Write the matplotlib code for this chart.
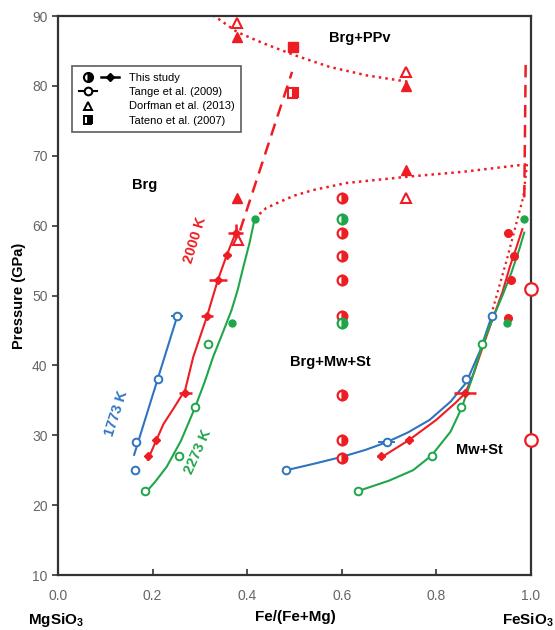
import matplotlib
matplotlib.use("Agg")
import matplotlib.pyplot as plt
from matplotlib.lines import Line2D
from matplotlib.legend_handler import HandlerTuple

plt.rcParams["font.family"] = ["Liberation Sans", "DejaVu Sans"]
plt.rcParams["mathtext.fontset"] = "custom"
plt.rcParams["mathtext.rm"] = "Liberation Sans:bold"
plt.rcParams["mathtext.bf"] = "Liberation Sans:bold"

BLUE, RED, GREEN = "#2f74c0", "#ee1d23", "#1fa64a"

# ---- data: x = Fe/(Fe+Mg), y = pressure (GPa) ----
# 1773 K (Tange et al. 2009, open circles)
b_lo_x = [0.165, 0.212, 0.252]; b_lo_y = [29, 38, 47]; b_lo_xerr = [0, 0, 0.012]
b_extra_x = [0.163]; b_extra_y = [25]
b_hi_x = [0.483, 0.695, 0.863, 0.917]; b_hi_y = [25, 29, 38, 47]; b_hi_xerr = [0, 0.018, 0, 0]
b_lo_fit_x = [0.161, 0.252]; b_lo_fit_y = [27.2, 47]
b_hi_fit_x = [0.483, 0.54, 0.60, 0.65, 0.695, 0.74, 0.786, 0.83, 0.863, 0.892, 0.917]
b_hi_fit_y = [25, 25.9, 26.9, 27.9, 29, 30.4, 32.2, 34.8, 37.5, 42, 47]

# 2000 K (this study, filled with error bars)
r_lo_x = [0.191, 0.208, 0.269, 0.315, 0.338, 0.357, 0.376]
r_lo_y = [27, 29.3, 36, 47, 52.2, 55.8, 59]
r_lo_xerr = [0.006, 0.006, 0.014, 0.013, 0.019, 0.008, 0.016]
r_lo_yerr = [0, 0, 0, 0, 0, 0, 1.2]
r_hi_x = [0.683, 0.742, 0.861]; r_hi_y = [27, 29.3, 36]; r_hi_xerr = [0.008, 0.008, 0.023]
r_extra_x = [0.952, 0.964, 0.957, 0.952]; r_extra_y = [59, 55.6, 52.2, 46.8]
r_lo_fit_x = [0.19, 0.208, 0.223, 0.245, 0.269, 0.286, 0.30, 0.315, 0.338, 0.357, 0.376]
r_lo_fit_y = [26.5, 29.3, 31.6, 33.9, 36.5, 41.2, 44, 47, 52.2, 55.8, 59]
r_hi_fit_x = [0.683, 0.742, 0.80, 0.84, 0.861, 0.88, 0.90, 0.92, 0.94, 0.956, 0.97, 0.982]
r_hi_fit_y = [26.8, 29.3, 32.2, 34.6, 36, 39, 43, 46.8, 50.5, 54.2, 57, 59.5]

# 2273 K (open = Tange et al., filled = this study)
g_lo_x = [0.184, 0.256, 0.29, 0.317]; g_lo_y = [22, 27, 34, 43]
g_hi_x = [0.634, 0.79, 0.853, 0.897]; g_hi_y = [22, 27, 34, 43]
g_fill_x = [0.368, 0.416, 0.985, 0.95]; g_fill_y = [46, 61, 61, 46]
g_lo_fit_x = [0.184, 0.205, 0.230, 0.26, 0.29, 0.31, 0.328, 0.348, 0.367, 0.38, 0.392, 0.405, 0.416]
g_lo_fit_y = [21.7, 23.3, 25.5, 29.2, 34, 37.6, 41.2, 44.6, 47.9, 50.8, 54.1, 57.5, 61]
g_hi_fit_x = [0.634, 0.70, 0.751, 0.79, 0.83, 0.853, 0.875, 0.897, 0.92, 0.94, 0.959, 0.975, 0.986]
g_hi_fit_y = [22, 23.5, 25, 27.1, 30.5, 33.8, 38, 42.8, 46.8, 50, 53.3, 56.5, 59]

# half-filled circles at Fe# = 0.6 (this study)
hc_red_y = [64, 59, 55.6, 52.2, 47, 35.8, 29.3, 26.8]
hc_green_y = [61, 46]
hc_x = 0.6

# Dorfman et al. (2013) triangles
dorf_open_x = [0.378, 0.735, 0.735, 0.38]; dorf_open_y = [89, 82, 64, 58]
dorf_fill_x = [0.378, 0.735, 0.735, 0.378]; dorf_fill_y = [87, 80, 68, 64]
# Tateno et al. (2007) squares
tat_fill_x = [0.498]; tat_fill_y = [85.5]
tat_half_x = [0.498]; tat_half_y = [79]
# open red circles on FeSiO3 side
fe_x = [1.0, 1.0]; fe_y = [51, 29.3]

# phase boundaries
ppv_x = [0.315, 0.339, 0.379, 0.434, 0.5, 0.575, 0.653, 0.739]
ppv_y = [90.6, 89.6, 87.7, 86.1, 84.4, 82.7, 81.5, 80.6]
brg_x = [0.416, 0.42, 0.44, 0.469, 0.50, 0.54, 0.61, 0.739, 0.856, 0.994]
brg_y = [61, 61.3, 62.5, 63.4, 64.3, 65.1, 66.1, 67, 67.7, 68.8]
fe_dot_x = [0.992, 0.984, 0.949, 0.913]; fe_dot_y = [68.8, 64.1, 55.1, 46.5]
dash_l_x = [0.385, 0.495]; dash_l_y = [59.3, 82]
dash_r_x = [0.989, 0.986]; dash_r_y = [83, 63]

fig = plt.figure(figsize=(5.55, 6.3), dpi=100)
ax = fig.add_axes([0.1045, 0.0873, 0.852, 0.8873])

# boundaries
ax.plot(ppv_x, ppv_y, ":", color=RED, lw=1.8)
ax.plot(brg_x, brg_y, ":", color=RED, lw=1.8)
ax.plot(fe_dot_x, fe_dot_y, ":", color=RED, lw=1.6)
ax.plot(dash_l_x, dash_l_y, "--", color=RED, lw=1.8, dashes=(5, 3))
ax.plot(dash_r_x, dash_r_y, "--", color=RED, lw=1.8, dashes=(5, 3))

# fitted curves
for xs, ys, c in [(b_lo_fit_x, b_lo_fit_y, BLUE), (b_hi_fit_x, b_hi_fit_y, BLUE),
                  (r_lo_fit_x, r_lo_fit_y, RED), (r_hi_fit_x, r_hi_fit_y, RED),
                  (g_lo_fit_x, g_lo_fit_y, GREEN), (g_hi_fit_x, g_hi_fit_y, GREEN)]:
    ax.plot(xs, ys, "-", color=c, lw=1.5, zorder=2, solid_joinstyle="round")

# Tange open circles
ax.errorbar(b_lo_x, b_lo_y, xerr=b_lo_xerr, fmt="o", ms=5.5, mfc="white", mec=BLUE,
            ecolor=BLUE, mew=1.4, elinewidth=1.4, capsize=0, zorder=4)
ax.plot(b_extra_x, b_extra_y, "o", ms=5.5, mfc="white", mec=BLUE, mew=1.4, zorder=4)
ax.errorbar(b_hi_x, b_hi_y, xerr=b_hi_xerr, fmt="o", ms=5.5, mfc="white", mec=BLUE,
            ecolor=BLUE, mew=1.4, elinewidth=1.4, capsize=0, zorder=4)
ax.plot(g_lo_x, g_lo_y, "o", ms=5.5, mfc="white", mec=GREEN, mew=1.4, zorder=4)
ax.plot(g_hi_x, g_hi_y, "o", ms=5.5, mfc="white", mec=GREEN, mew=1.4, zorder=4)

# this study, filled
ax.errorbar(r_lo_x, r_lo_y, xerr=r_lo_xerr, yerr=r_lo_yerr, fmt="D", ms=4.5, color=RED,
            elinewidth=1.8, capsize=0, zorder=4)
ax.errorbar(r_hi_x, r_hi_y, xerr=r_hi_xerr, fmt="D", ms=4.5, color=RED,
            elinewidth=1.8, capsize=0, zorder=4)
ax.plot(r_extra_x, r_extra_y, "o", ms=5.5, color=RED, zorder=4)
ax.plot(g_fill_x, g_fill_y, "o", ms=5, color=GREEN, zorder=4)

# half-filled circles
ax.plot([hc_x] * len(hc_red_y), hc_red_y, "o", ms=7, color=RED, fillstyle="right",
        markerfacecoloralt="white", mew=1.6, zorder=5)
ax.plot([hc_x] * len(hc_green_y), hc_green_y, "o", ms=7, color=GREEN, fillstyle="right",
        markerfacecoloralt="white", mew=1.6, zorder=5)

# literature
ax.plot(dorf_open_x, dorf_open_y, "^", ms=7, mfc="white", mec=RED, mew=1.5, zorder=5)
ax.plot(dorf_fill_x, dorf_fill_y, "^", ms=7, color=RED, zorder=5)
ax.plot(tat_fill_x, tat_fill_y, "s", ms=7, color=RED, zorder=5)
ax.plot(tat_half_x, tat_half_y, "s", ms=7, color=RED, fillstyle="right",
        markerfacecoloralt="white", mew=1.5, zorder=5)
ax.plot(fe_x, fe_y, "o", ms=9, mfc="white", mec=RED, mew=1.6, zorder=6, clip_on=False)

# field labels
ax.text(0.184, 65.8, "Brg", fontsize=10.5, fontweight="bold", ha="center", va="center")
ax.text(0.638, 86.8, "Brg+PPv", fontsize=10.5, fontweight="bold", ha="center", va="center")
ax.text(0.575, 40.5, "Brg+Mw+St", fontsize=10.5, fontweight="bold", ha="center", va="center")
ax.text(0.892, 27.9, "Mw+St", fontsize=10.5, fontweight="bold", ha="center", va="center")
ax.text(0.290, 57.9, "2000 K", fontsize=10.5, fontweight="bold", color=RED, rotation=73,
        ha="center", va="center")
ax.text(0.124, 33.1, "1773 K", fontsize=10.5, fontweight="bold", color=BLUE, rotation=72,
        ha="center", va="center")
ax.text(0.297, 27.6, "2273 K", fontsize=10.5, fontweight="bold", color=GREEN, rotation=66,
        ha="center", va="center")

# legend
h_half = Line2D([], [], marker="o", ms=6.5, color="k", fillstyle="right",
                markerfacecoloralt="white", mew=1.5, ls="none")
h_dia = Line2D([], [], marker="D", ms=4.5, color="k", ls="-", lw=1.8)
h_open = Line2D([], [], marker="o", ms=5.5, mfc="white", mec="k", mew=1.5, color="k", ls="-", lw=1.5)
h_tri = Line2D([], [], marker="^", ms=6, mfc="white", mec="k", mew=1.4, ls="none")
h_sq = Line2D([], [], marker="s", ms=6, color="k", fillstyle="right",
              markerfacecoloralt="white", mew=1.4, ls="none")
blank = Line2D([], [], ls="none")
leg = ax.legend([(h_half, h_dia), (h_open, blank), (h_tri, blank), (h_sq, blank)],
                ["This study", "Tange et al. (2009)", "Dorfman et al. (2013)", "Tateno et al. (2007)"],
                handler_map={tuple: HandlerTuple(ndivide=None, pad=0.4)},
                loc="upper left", bbox_to_anchor=(0.03, 0.91), fontsize=8, frameon=True,
                fancybox=False, edgecolor="#333333", handlelength=3.6, borderpad=0.6,
                labelspacing=0.38, handletextpad=0.9, borderaxespad=0)
leg.get_frame().set_linewidth(1.2)

# axes styling
ax.set_xlim(0, 1.0)
ax.set_ylim(10, 90)
ax.set_xticks([0.0, 0.2, 0.4, 0.6, 0.8, 1.0])
ax.set_xticklabels(["0.0", "0.2", "0.4", "0.6", "0.8", "1.0"])
ax.set_yticks(range(10, 91, 10))
ax.tick_params(axis="x", direction="in", length=4, width=1.2, labelsize=10,
               labelcolor="#666666", pad=10, color="#333333")
ax.tick_params(axis="y", direction="out", length=4, width=1.2, labelsize=10,
               labelcolor="#666666", color="#333333")
for s in ax.spines.values():
    s.set_linewidth(1.6)
    s.set_color("#333333")
ax.set_ylabel("Pressure (GPa)", fontsize=10.5, fontweight="bold", labelpad=4)

fig.text(0.10, 0.016, r"MgSiO$_3$", fontsize=11, fontweight="bold", ha="center", va="center")
fig.text(0.532, 0.02, "Fe/(Fe+Mg)", fontsize=11, fontweight="bold", ha="center", va="center")
fig.text(0.997, 0.016, r"FeSiO$_3$", fontsize=11, fontweight="bold", ha="right", va="center")

fig.savefig("out.png", dpi=100)
